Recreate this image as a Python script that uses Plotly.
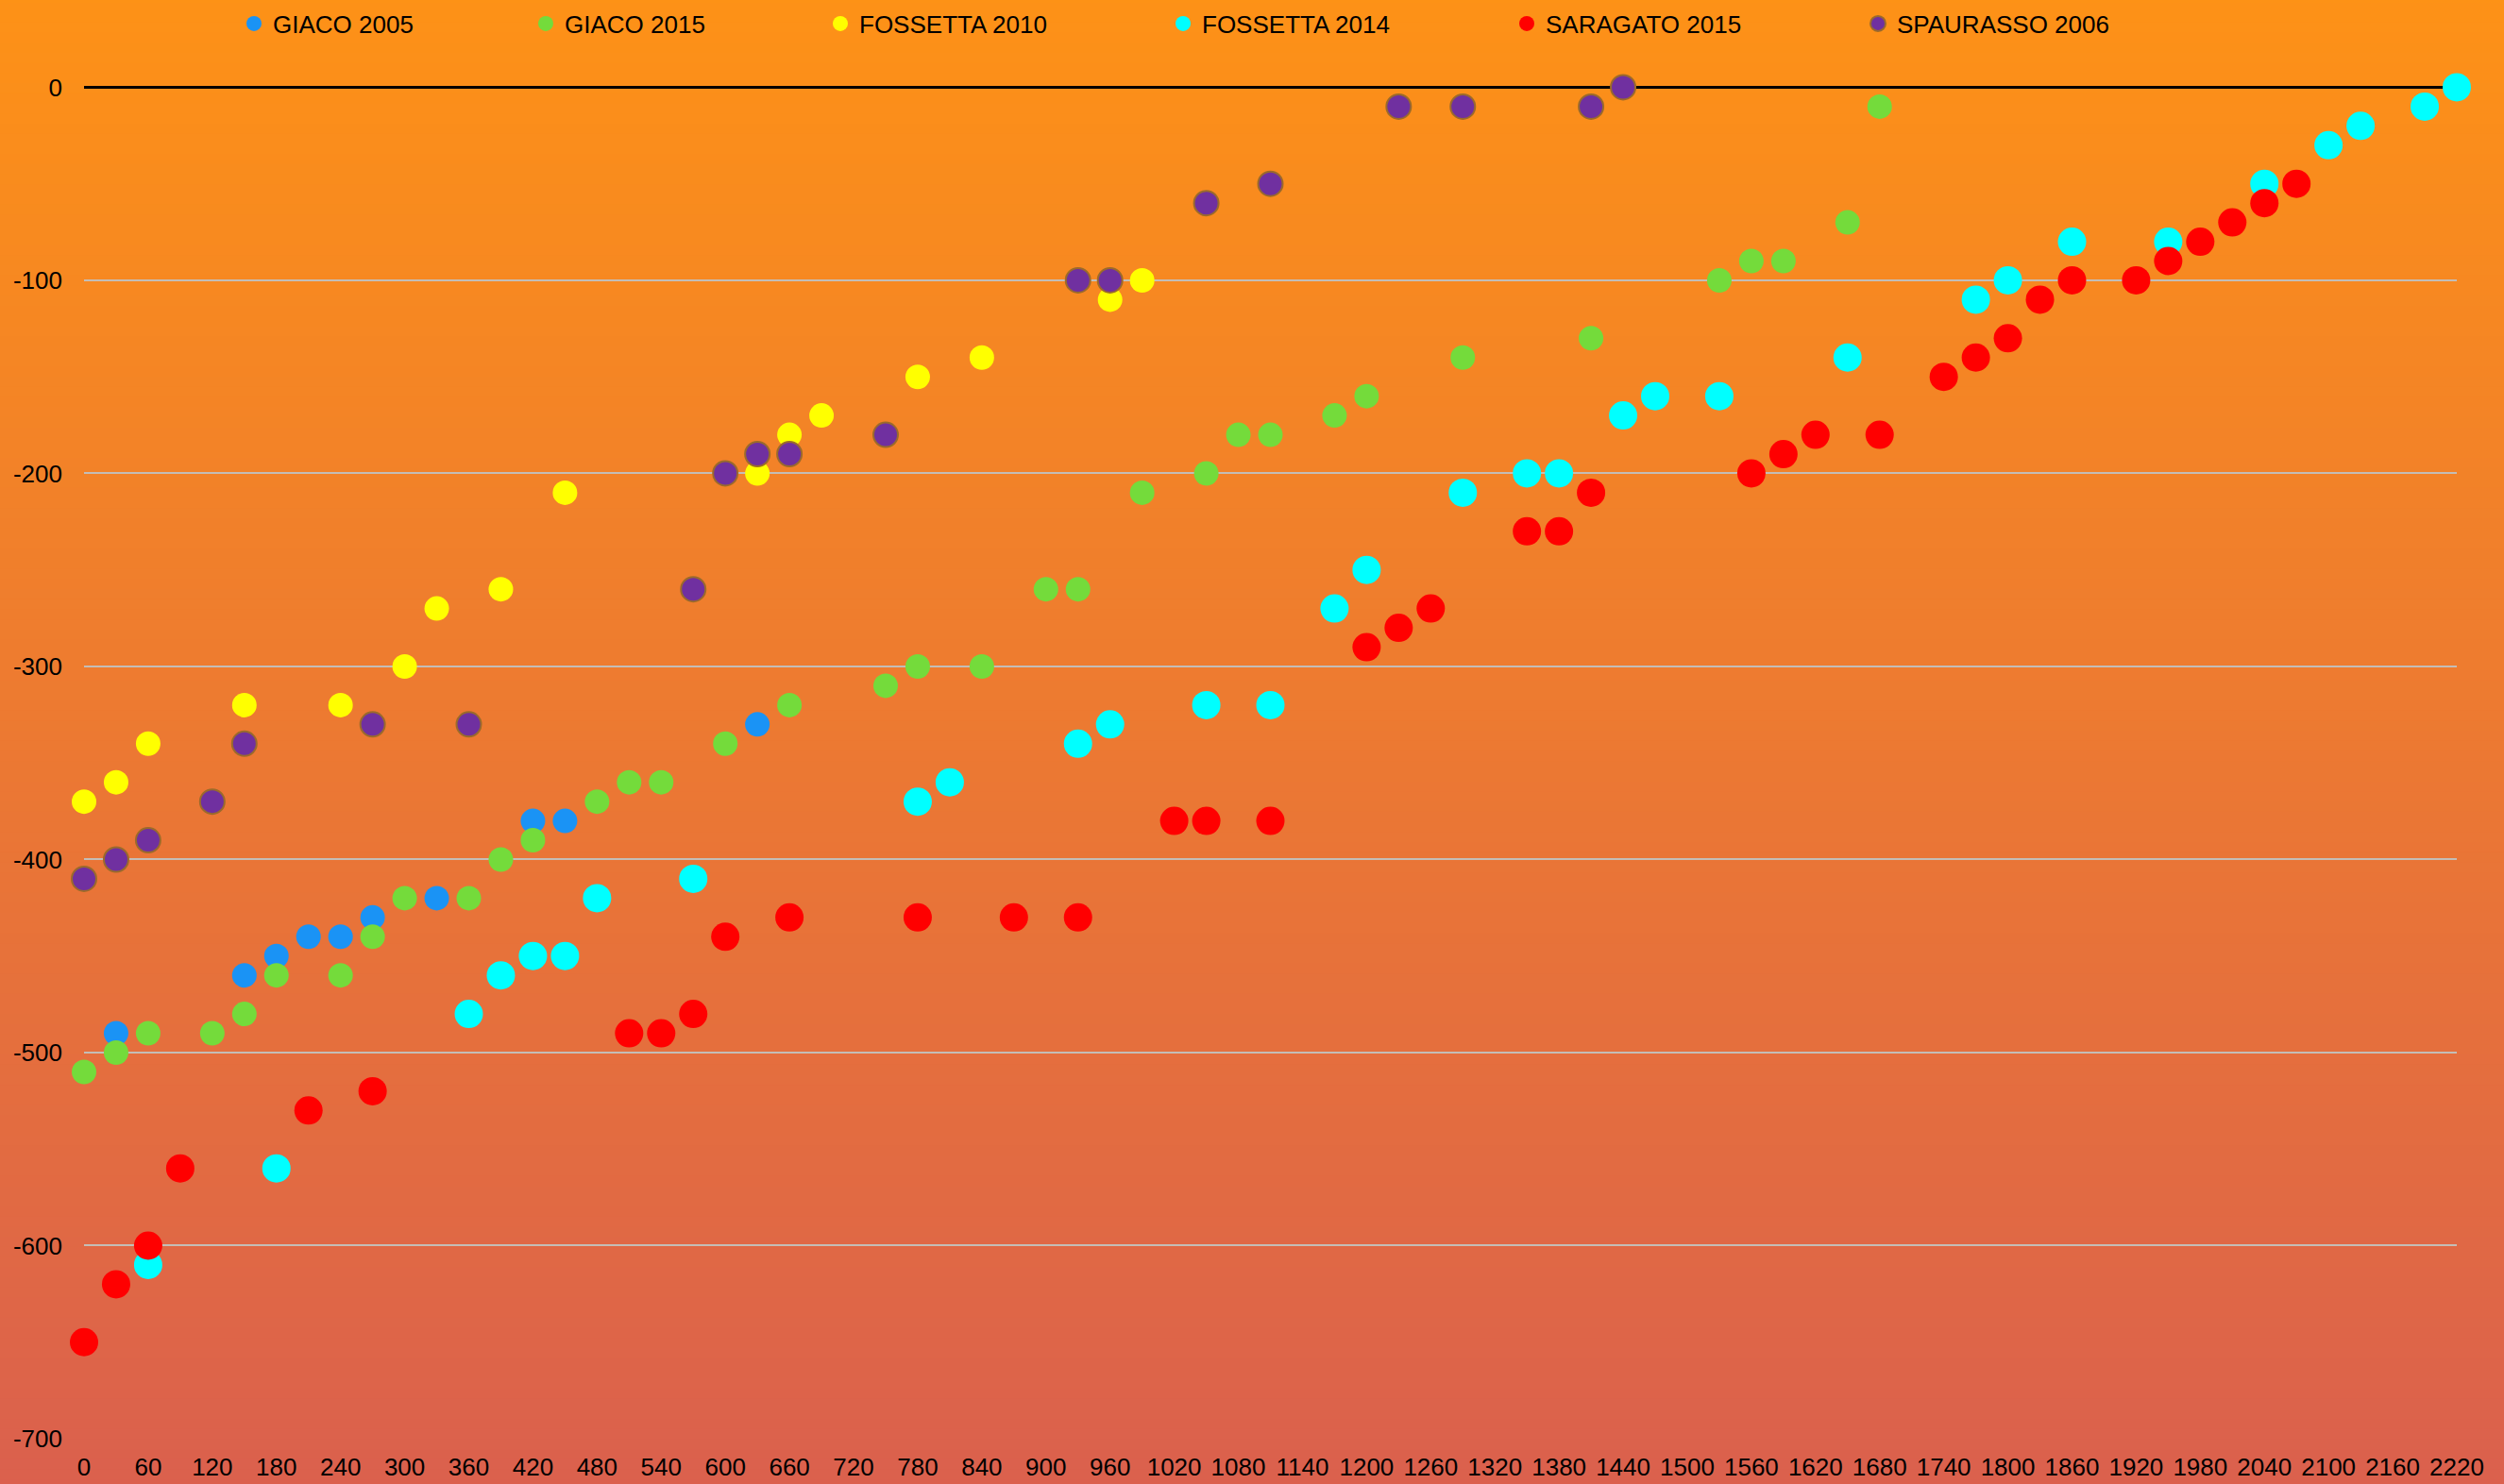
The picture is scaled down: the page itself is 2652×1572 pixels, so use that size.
import plotly.graph_objects as go

# ---------------- data ----------------
giaco2005_x = [30, 150, 180, 210, 240, 270, 330, 420, 450, 630]
giaco2005_y = [-490, -460, -450, -440, -440, -430, -420, -380, -380, -330]

giaco2015_x = [0, 30, 60, 120, 150, 180, 240, 270, 300, 360, 390, 420, 480, 510, 540, 600, 660,
               750, 780, 840, 900, 930, 990, 1050, 1080, 1110, 1170, 1200, 1290, 1410, 1530, 1560,
               1590, 1650, 1680]
giaco2015_y = [-510, -500, -490, -490, -480, -460, -460, -440, -420, -420, -400, -390, -370, -360,
               -360, -340, -320, -310, -300, -300, -260, -260, -210, -200, -180, -180, -170, -160,
               -140, -130, -100, -90, -90, -70, -10]

fossetta2010_x = [0, 30, 60, 150, 240, 300, 330, 390, 450, 630, 660, 690, 780, 840, 960, 990]
fossetta2010_y = [-370, -360, -340, -320, -320, -300, -270, -260, -210, -200, -180, -170, -150,
                  -140, -110, -100]

fossetta2014_x = [60, 180, 360, 390, 420, 450, 480, 570, 780, 810, 930, 960, 1050, 1110, 1170, 1200,
                  1290, 1350, 1380, 1440, 1470, 1530, 1650, 1770, 1800, 1860, 1950, 2040, 2100, 2130,
                  2190, 2220]
fossetta2014_y = [-610, -560, -480, -460, -450, -450, -420, -410, -370, -360, -340, -330, -320, -320,
                  -270, -250, -210, -200, -200, -170, -160, -160, -140, -110, -100, -80, -80, -50,
                  -30, -20, -10, 0]

saragato2015_x = [0, 30, 60, 90, 210, 270, 510, 540, 570, 600, 660, 780, 870, 930, 1020, 1050, 1110,
                  1200, 1230, 1260, 1350, 1380, 1410, 1560, 1590, 1620, 1680, 1740, 1770, 1800, 1830,
                  1860, 1920, 1950, 1980, 2010, 2040, 2070]
saragato2015_y = [-650, -620, -600, -560, -530, -520, -490, -490, -480, -440, -430, -430, -430, -430,
                  -380, -380, -380, -290, -280, -270, -230, -230, -210, -200, -190, -180, -180, -150,
                  -140, -130, -110, -100, -100, -90, -80, -70, -60, -50]

spaurasso2006_x = [0, 30, 60, 120, 150, 270, 360, 570, 600, 630, 660, 750, 930, 960, 1050, 1110,
                   1230, 1290, 1410, 1440]
spaurasso2006_y = [-410, -400, -390, -370, -340, -330, -330, -260, -200, -190, -190, -180, -100,
                   -100, -60, -50, -10, -10, -10, 0]

series_names = ["GIACO 2005", "GIACO 2015", "FOSSETTA 2010", "FOSSETTA 2014", "SARAGATO 2015",
                "SPAURASSO 2006"]

x_tick_vals = list(range(0, 2221, 60))
x_tick_text = [str(v) for v in x_tick_vals]
y_tick_vals = [0, -100, -200, -300, -400, -500, -600, -700]
y_tick_text = ["0", "-100", "-200", "-300", "-400", "-500", "-600", "-700"]

# ---------------- style ----------------
W, H = 2652, 1572
Y_TOP_PAD = 1.2                      # small headroom above 0 so the zero line is not clipped
PX_PER_UNIT = 1432 / 700
ML, MR, MB = 89, 50, 48
MT = 92 - Y_TOP_PAD * PX_PER_UNIT
FONT = "Liberation Sans, Arial, sans-serif"

styles = [
    dict(color="#1A93F5", size=26, line=dict(width=0)),
    dict(color="#74DB3B", size=26, line=dict(width=0)),
    dict(color="#FFFF00", size=26, line=dict(width=0)),
    dict(color="#00FFFF", size=30, line=dict(width=0)),
    dict(color="#FF0000", size=30, line=dict(width=0)),
    dict(color="#7030A0", size=26, line=dict(width=2, color="#9A6A2C")),
]
xs = [giaco2005_x, giaco2015_x, fossetta2010_x, fossetta2014_x, saragato2015_x, spaurasso2006_x]
ys = [giaco2005_y, giaco2015_y, fossetta2010_y, fossetta2014_y, saragato2015_y, spaurasso2006_y]
legend_marker_px = [271, 580, 892, 1255, 1619, 1991]

fig = go.Figure()
legend_ids = ["legend", "legend2", "legend3", "legend4", "legend5", "legend6"]
for i in range(6):
    fig.add_trace(go.Scatter(
        x=xs[i], y=ys[i], mode="markers", name=series_names[i],
        marker=dict(symbol="circle", **styles[i]),
        cliponaxis=False, legend=legend_ids[i],
    ))

layout_legends = {}
for i, lid in enumerate(legend_ids):
    layout_legends[lid] = dict(
        xref="container", yref="container",
        x=(legend_marker_px[i] - 22) / W, xanchor="left",
        y=1 - 25 / H, yanchor="middle",
        orientation="h", bgcolor="rgba(0,0,0,0)", borderwidth=0,
        font=dict(family=FONT, size=26, color="#000000"),
        itemsizing="trace",
    )

# gradient background built from thin bands (paper coordinates, covering the whole figure)
top = (255, 148, 20)
bot = (217, 94, 80)
nb = 160
shapes = []
plot_h = H - MT - MB
plot_w = W - ML - MR
y_top = (H - MB) / plot_h + 0.05
y_bot = -MB / plot_h - 0.05
x_left = -ML / plot_w - 0.02
x_right = (W - ML) / plot_w + 0.02
for k in range(nb):
    t = (k + 0.5) / nb
    c = tuple(round(top[j] + (bot[j] - top[j]) * t) for j in range(3))
    ya = y_top - (y_top - y_bot) * k / nb
    yb = y_top - (y_top - y_bot) * (k + 1) / nb
    shapes.append(dict(type="rect", xref="paper", yref="paper", x0=x_left, x1=x_right,
                       y0=yb - 0.001, y1=ya + 0.001, fillcolor="rgb(%d,%d,%d)" % c,
                       line=dict(width=0), layer="below"))

fig.update_layout(
    width=W, height=H,
    margin=dict(l=ML, r=MR, t=MT, b=MB, pad=0, autoexpand=False),
    paper_bgcolor="rgb(236,121,50)",
    plot_bgcolor="rgba(0,0,0,0)",
    font=dict(family=FONT, size=26, color="#000000"),
    showlegend=True,
    shapes=shapes,
    xaxis=dict(range=[0, 2220], tickvals=x_tick_vals, ticktext=x_tick_text,
               showgrid=False, zeroline=False, showline=False, ticks="", automargin=False,
               ticklabelstandoff=12, tickfont=dict(family=FONT, size=26, color="#000000")),
    yaxis=dict(range=[-700, Y_TOP_PAD], tickvals=y_tick_vals, ticktext=y_tick_text,
               showgrid=True, gridcolor="#C4BDB6", gridwidth=1.5,
               zeroline=True, zerolinecolor="#000000", zerolinewidth=3,
               showline=False, ticks="", automargin=False,
               ticklabelstandoff=22, tickfont=dict(family=FONT, size=26, color="#000000")),
    **layout_legends,
)

fig.write_html("out.html", config={"displayModeBar": False},
               post_script="document.body.style.margin='0';document.body.style.overflow='hidden';")
